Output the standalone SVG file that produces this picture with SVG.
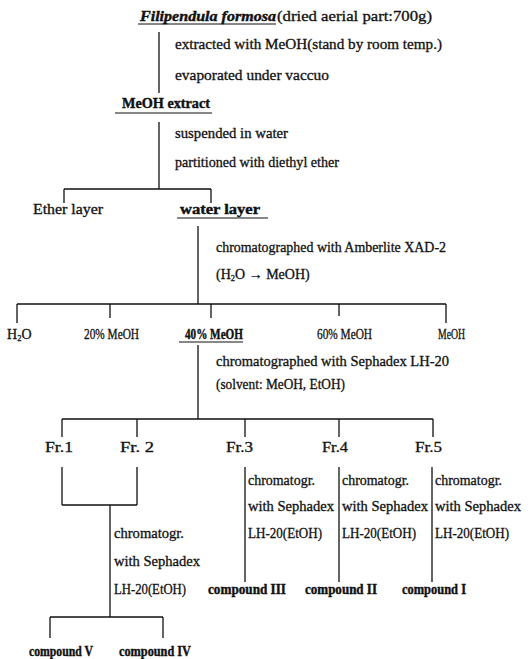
<svg xmlns="http://www.w3.org/2000/svg" width="531" height="659" viewBox="0 0 531 659">
<style>
text{font-family:"Liberation Serif","DejaVu Serif",serif;font-size:14px;fill:#111;stroke:#111;stroke-width:0.3;}
.b{font-weight:bold;stroke-width:0.4;}
.bi{font-weight:bold;font-style:italic;stroke-width:0.4;}
.ln{stroke:#111;stroke-width:1.3;fill:none;}
.ul{stroke:#111;stroke-width:1.2;}
</style>
<rect width="531" height="659" fill="#fff"/>
<g id="connectors" class="ln">
<path d="M159 32V93"/>
<path d="M159 122V189M64 189H211M64 189V203M211 189V203"/>
<path d="M198 226V304M17 304H446M17 304V323M110 304V318M211 304V318M339 304V316M446 304V323"/>
<path d="M198 345V419M62 419H433M62 419V437M137 419V437M245 419V437M339 419V437M433 419V437"/>
<path d="M62 467V505M137 467V505M62 505H137M110 505V617M50 617H163M50 617V638M163 617V638"/>
<path d="M245 467V582M339 467V582M432 467V582"/>
</g>
<g id="source">
<text x="140" y="21" class="bi" textLength="136" lengthAdjust="spacingAndGlyphs">Filipendula formosa</text>
<text x="277" y="21" textLength="155" lengthAdjust="spacingAndGlyphs">(dried aerial part:700g)</text>
<line class="ul" x1="138" y1="24" x2="276" y2="24"/>
</g>
<g id="step1">
<text x="175" y="49" textLength="267" lengthAdjust="spacingAndGlyphs">extracted with MeOH(stand by room temp.)</text>
<text x="175" y="80" textLength="154" lengthAdjust="spacingAndGlyphs">evaporated under vaccuo</text>
</g>
<g id="meoh-extract">
<text x="122" y="108" class="b" textLength="88" lengthAdjust="spacingAndGlyphs">MeOH extract</text>
<line class="ul" x1="115" y1="113" x2="212" y2="113"/>
</g>
<g id="step2">
<text x="175" y="138" textLength="113" lengthAdjust="spacingAndGlyphs">suspended in water</text>
<text x="175" y="167" textLength="164" lengthAdjust="spacingAndGlyphs">partitioned with diethyl ether</text>
</g>
<g id="ether-layer">
<text x="33" y="214" textLength="70" lengthAdjust="spacingAndGlyphs">Ether layer</text>
</g>
<g id="water-layer">
<text x="180" y="214" class="b" textLength="80" lengthAdjust="spacingAndGlyphs">water layer</text>
<line class="ul" x1="177" y1="218" x2="268" y2="218"/>
</g>
<g id="step3">
<text x="216" y="252" textLength="230" lengthAdjust="spacingAndGlyphs">chromatographed with Amberlite XAD-2</text>
<text x="216" y="279" font-size="12.5">(H<tspan font-size="8.5" dy="2">2</tspan><tspan dy="-2">O → MeOH)</tspan></text>
</g>
<g id="h2o"><text x="7" y="339" font-size="13">H<tspan font-size="8.5" dy="2">2</tspan><tspan dy="-2">O</tspan></text></g>
<g id="meoh20"><text x="84" y="339" textLength="55" lengthAdjust="spacingAndGlyphs">20% MeOH</text></g>
<g id="meoh40">
<text x="185" y="339" class="b" textLength="58" lengthAdjust="spacingAndGlyphs">40% MeOH</text>
<line class="ul" x1="179" y1="342" x2="243" y2="342"/>
</g>
<g id="meoh60"><text x="317" y="339" textLength="55" lengthAdjust="spacingAndGlyphs">60% MeOH</text></g>
<g id="meoh100"><text x="438" y="339" textLength="27" lengthAdjust="spacingAndGlyphs">MeOH</text></g>
<g id="step4">
<text x="216" y="366" textLength="233" lengthAdjust="spacingAndGlyphs">chromatographed with Sephadex LH-20</text>
<text x="216" y="389" textLength="129" lengthAdjust="spacingAndGlyphs">(solvent: MeOH, EtOH)</text>
</g>
<g id="fr1"><text x="45" y="452" textLength="28" lengthAdjust="spacingAndGlyphs">Fr.1</text></g>
<g id="fr2"><text x="120" y="452" textLength="34" lengthAdjust="spacingAndGlyphs">Fr. 2</text></g>
<g id="fr3"><text x="226" y="452" textLength="27" lengthAdjust="spacingAndGlyphs">Fr.3</text></g>
<g id="fr4"><text x="322" y="452" textLength="26" lengthAdjust="spacingAndGlyphs">Fr.4</text></g>
<g id="fr5"><text x="415" y="452" textLength="27" lengthAdjust="spacingAndGlyphs">Fr.5</text></g>
<g id="step-fr3">
<text x="248" y="485" textLength="67" lengthAdjust="spacingAndGlyphs">chromatogr.</text>
<text x="248" y="511" textLength="86" lengthAdjust="spacingAndGlyphs">with Sephadex</text>
<text x="248" y="538" textLength="74" lengthAdjust="spacingAndGlyphs">LH-20(EtOH)</text>
</g>
<g id="step-fr4">
<text x="342" y="485" textLength="67" lengthAdjust="spacingAndGlyphs">chromatogr.</text>
<text x="342" y="511" textLength="86" lengthAdjust="spacingAndGlyphs">with Sephadex</text>
<text x="342" y="538" textLength="74" lengthAdjust="spacingAndGlyphs">LH-20(EtOH)</text>
</g>
<g id="step-fr5">
<text x="435" y="485" textLength="67" lengthAdjust="spacingAndGlyphs">chromatogr.</text>
<text x="435" y="511" textLength="86" lengthAdjust="spacingAndGlyphs">with Sephadex</text>
<text x="435" y="538" textLength="74" lengthAdjust="spacingAndGlyphs">LH-20(EtOH)</text>
</g>
<g id="step-fr12">
<text x="114" y="538" textLength="70" lengthAdjust="spacingAndGlyphs">chromatogr.</text>
<text x="114" y="566" textLength="86" lengthAdjust="spacingAndGlyphs">with Sephadex</text>
<text x="114" y="594" textLength="72" lengthAdjust="spacingAndGlyphs">LH-20(EtOH)</text>
</g>
<g id="compound3"><text x="208" y="594" class="b" textLength="78" lengthAdjust="spacingAndGlyphs">compound III</text></g>
<g id="compound2"><text x="305" y="594" class="b" textLength="72" lengthAdjust="spacingAndGlyphs">compound II</text></g>
<g id="compound1"><text x="402" y="594" class="b" textLength="64" lengthAdjust="spacingAndGlyphs">compound I</text></g>
<g id="compound5"><text x="29" y="656" class="b" textLength="64" lengthAdjust="spacingAndGlyphs">compound V</text></g>
<g id="compound4"><text x="119" y="656" class="b" textLength="72" lengthAdjust="spacingAndGlyphs">compound IV</text></g>
</svg>
